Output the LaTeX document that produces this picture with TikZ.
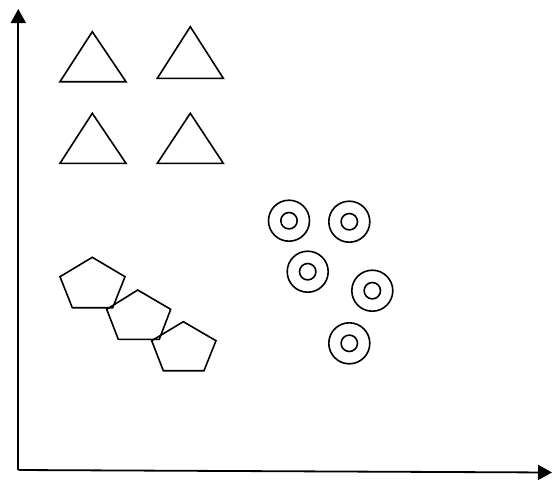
\documentclass[tikz,border=0pt]{standalone}
\usetikzlibrary{arrows.meta}
\tikzset{
  outline/.style={line width=1.6pt, line join=miter},
  axisline/.style={line width=1.8pt, -{Triangle[length=14pt,width=15pt]}},
  ring/.style={line width=1.6pt}
}
\begin{document}
\begin{tikzpicture}[x=1pt,y=-1pt]
\useasboundingbox (0,0) rectangle (553,482);

% axes
\coordinate (origin) at (18.3,470);
\coordinate (ytop) at (18.3,9);
\coordinate (xend) at (552,472.5);
\draw[axisline] (origin) -- (ytop);
\draw[axisline] (origin) -- (xend);

% triangles
\draw[outline] (92.3,31.7) -- (126,81.7) -- (60,81.7) -- cycle;
\draw[outline] (190.3,26.7) -- (223.3,78.3) -- (157.3,78.3) -- cycle;
\draw[outline] (92.3,113.3) -- (126,163.3) -- (60,163.3) -- cycle;
\draw[outline] (190.3,113.3) -- (223.3,163.3) -- (157.3,163.3) -- cycle;

% pentagons
\draw[outline] (92.3,257.3) -- (125,276.7) -- (112.7,307.7) -- (72.3,307.7) -- (60,276.7) -- cycle;
\draw[outline] (137.7,290) -- (170.7,309.3) -- (159.3,339.3) -- (118.3,339.3) -- (106.7,309.3) -- cycle;
\draw[outline] (183.3,321.7) -- (216,340.7) -- (204,370.7) -- (163.3,370.7) -- (151.7,340.7) -- cycle;

% concentric rings
\foreach \cx/\cy in {289/220.7, 349.3/221.7, 307.7/271.7, 372.3/290.7, 349.3/343.3}{
  \draw[ring] (\cx,\cy) circle[radius=20.5];
  \draw[ring] (\cx,\cy) circle[radius=8.2];
}
\end{tikzpicture}
\end{document}
